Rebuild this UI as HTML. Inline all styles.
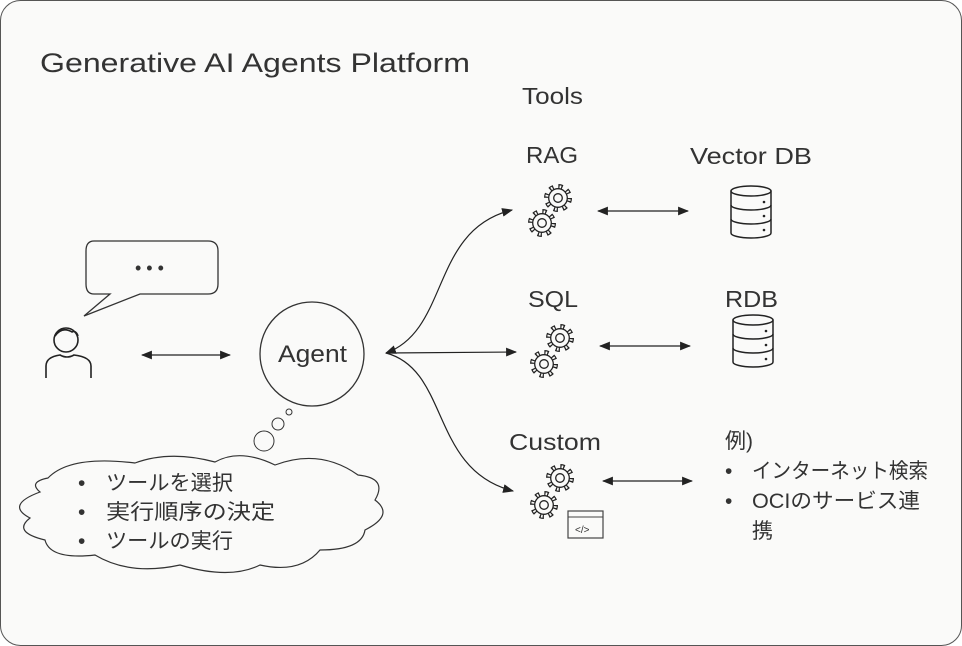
<!DOCTYPE html>
<html><head><meta charset="utf-8"><style>
html,body{margin:0;padding:0;background:#fff;}
svg{display:block;}
text{font-family:"Liberation Sans","Noto Sans CJK JP",sans-serif;fill:#333;}
</style></head><body>
<svg width="962" height="646" viewBox="0 0 962 646" xmlns="http://www.w3.org/2000/svg">
<defs>
<marker id="ah" viewBox="0 0 10 10" refX="9" refY="5" markerWidth="11" markerHeight="11" markerUnits="userSpaceOnUse" orient="auto-start-reverse">
<path d="M0,1 L10,5 L0,9 Z" fill="#222"/></marker>
<g id="gear">
<circle r="11" fill="none" stroke="#222" stroke-width="6" stroke-dasharray="4 4.64"/>
<circle r="11" fill="none" stroke="#fafaf9" stroke-width="3.6" stroke-dasharray="1.6 7.04" stroke-dashoffset="-1.2"/>
<circle r="9.3" fill="#fafaf9" stroke="#222" stroke-width="1.3"/>
<circle r="4.3" fill="none" stroke="#222" stroke-width="1.3"/>
</g>
<g id="db" fill="#fafaf9" stroke="#222" stroke-width="1.5">
<path d="M0,6 V48 A20,5 0 0 0 40,48 V6"/>
<ellipse cx="20" cy="6" rx="20" ry="5"/>
<path d="M0,20 A20,5 0 0 0 40,20 M0,34 A20,5 0 0 0 40,34" fill="none"/>
<circle cx="33" cy="17" r="1.3" fill="#222" stroke="none"/>
<circle cx="33" cy="31" r="1.3" fill="#222" stroke="none"/>
<circle cx="33" cy="45" r="1.3" fill="#222" stroke="none"/>
</g>
</defs>
<rect x="0.5" y="0.5" width="961" height="645" rx="20" fill="#fafaf9" stroke="#555"/>
<text x="40" y="72" font-size="27" textLength="430" lengthAdjust="spacingAndGlyphs">Generative AI Agents Platform</text>
<text x="522" y="104" font-size="23" textLength="61" lengthAdjust="spacingAndGlyphs">Tools</text>
<text x="526" y="163" font-size="23" textLength="52" lengthAdjust="spacingAndGlyphs">RAG</text>
<text x="690" y="164" font-size="23" textLength="122" lengthAdjust="spacingAndGlyphs">Vector DB</text>
<text x="528" y="307" font-size="23" textLength="50" lengthAdjust="spacingAndGlyphs">SQL</text>
<text x="725" y="307" font-size="23" textLength="53" lengthAdjust="spacingAndGlyphs">RDB</text>
<text x="509" y="450" font-size="23" textLength="92" lengthAdjust="spacingAndGlyphs">Custom</text>
<g font-size="21">
<text x="725" y="448">例)</text>
<text x="725" y="478">•</text><text x="752" y="478" textLength="176" lengthAdjust="spacingAndGlyphs">インターネット検索</text>
<text x="725" y="508">•</text><text x="752" y="508" textLength="168" lengthAdjust="spacingAndGlyphs">OCIのサービス連</text>
<text x="752" y="538">携</text>
</g>
<!-- speech bubble -->
<path d="M94,241 H208 Q218,241 218,251 V284 Q218,294 208,294 H140 L84,316 L110,294 H94 Q86,294 86,284 V251 Q86,241 94,241 Z" fill="#fafaf9" stroke="#333" stroke-width="1.3"/>
<text x="135" y="274" font-size="18">• • •</text>
<!-- person -->
<g fill="none" stroke="#222" stroke-width="1.6">
<circle cx="66" cy="340" r="12"/>
<path d="M55,336 Q62,326 72,332 Q76,330 78,336"/>
<path d="M46,378 V366 Q46,357 60,355 Q67,359 74,355 Q91,357 91,366 V378"/>
</g>
<line x1="142" y1="355" x2="230" y2="355" stroke="#222" stroke-width="1.3" marker-start="url(#ah)" marker-end="url(#ah)"/>
<circle cx="312" cy="354" r="52" fill="#fafaf9" stroke="#333" stroke-width="1.3"/>
<text x="278" y="362" font-size="24" textLength="69" lengthAdjust="spacingAndGlyphs">Agent</text>
<circle cx="289" cy="412" r="3" fill="none" stroke="#333"/>
<circle cx="278" cy="424" r="6" fill="none" stroke="#333"/>
<circle cx="264" cy="441" r="10" fill="none" stroke="#333"/>
<!-- cloud -->
<path d="M48,478 Q70,455 135,463 Q170,450 215,462 Q240,448 275,465 Q320,448 358,475 Q388,478 375,500 Q395,515 365,530 Q362,550 320,550 Q300,574 260,565 Q230,580 180,565 Q130,576 95,555 Q50,560 45,540 Q12,532 30,518 Q5,505 40,492 Q28,482 48,478 Z" fill="#fafaf9" stroke="#333" stroke-width="1.2"/>
<g font-size="21">
<text x="78" y="490">•</text><text x="106" y="490" textLength="127" lengthAdjust="spacingAndGlyphs">ツールを選択</text>
<text x="78" y="519">•</text><text x="106" y="519" textLength="169" lengthAdjust="spacingAndGlyphs">実行順序の決定</text>
<text x="78" y="548">•</text><text x="106" y="548" textLength="127" lengthAdjust="spacingAndGlyphs">ツールの実行</text>
</g>
<!-- connectors from agent -->
<g fill="none" stroke="#222" stroke-width="1.2">
<path d="M386,353 C450,330 430,230 512,210" marker-start="url(#ah)" marker-end="url(#ah)"/>
<path d="M386,353 L516,352" marker-end="url(#ah)"/>
<path d="M386,353 C450,370 430,470 513,491" marker-end="url(#ah)"/>
<line x1="598" y1="211" x2="688" y2="211" marker-start="url(#ah)" marker-end="url(#ah)"/>
<line x1="600" y1="346" x2="690" y2="346" marker-start="url(#ah)" marker-end="url(#ah)"/>
<line x1="603" y1="481" x2="692" y2="481" marker-start="url(#ah)" marker-end="url(#ah)"/>
</g>
<use href="#gear" x="558" y="198"/><use href="#gear" x="542" y="223"/>
<use href="#gear" x="560" y="338"/><use href="#gear" x="544" y="364"/>
<use href="#gear" x="560" y="478"/><use href="#gear" x="544" y="505"/>
<rect x="568" y="511" width="35" height="27" fill="#fafaf9" stroke="#444" stroke-width="1.2"/>
<line x1="568" y1="517" x2="603" y2="517" stroke="#444"/>
<text x="575" y="533" font-size="10">&lt;/&gt;</text>
<use href="#db" x="731" y="185"/>
<use href="#db" x="733" y="314"/>
</svg>
</body></html>
